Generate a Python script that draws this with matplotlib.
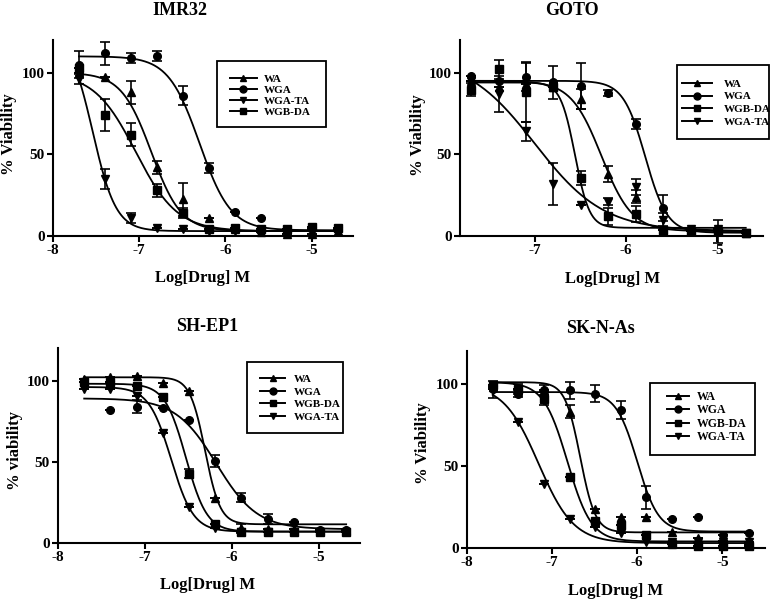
# Dose-response curves of four compounds in four neuroblastoma cell lines

import numpy as np
import matplotlib
matplotlib.use('Agg')
import matplotlib.pyplot as plt
from matplotlib.patches import Rectangle

plt.rcParams['font.family'] = ['Liberation Serif', 'DejaVu Serif']
plt.rcParams['font.weight'] = 'bold'

# log10 of 2-fold dilutions, 20 nM .. 20 uM
log_dose = [-7.699, -7.398, -7.097, -6.796, -6.495, -6.194, -5.893, -5.592, -5.291, -4.990, -4.689]

cell_lines = ['IMR32', 'GOTO', 'SH-EP1', 'SK-N-As']
y_labels = ['% Viability', '% Viability', '% viability', '% Viability']

# IMR32
imr32_wa = [100, 97.5, 88, 42, 22.5, 11, 4, 2.4, 1.5, 1.5, 3]
imr32_wa_err = [0, 0, 7, 4, 10, 0, 0, 0, 0, 0, 0]
imr32_wga = [105, 112, 109, 110, 86, 41.5, 15, 11, 4, 4, 4]
imr32_wga_err = [8, 7, 3, 3, 6, 3, 0, 0, 0, 0, 0]
imr32_wgata = [96, 35, 11, 5, 4, 3, 3, 3, 3, 3, 3]
imr32_wgata_err = [3, 6, 3, 0, 0, 0, 0, 0, 0, 0, 0]
imr32_wgbda = [103, 74, 62, 28, 14, 4.3, 5, 4, 4.5, 5.5, 5]
imr32_wgbda_err = [0, 10, 7, 4, 3, 0, 0, 0, 0, 0, 0]

# GOTO
goto_wa = [95, 91, 93, 91, 84, 38, 24, 3.5, 3, 3, 2]
goto_wa_err = [0, 0, 0, 0, 6, 5, 4, 0, 0, 0, 0]
goto_wga = [98, 95, 97.5, 94, 92, 87.5, 68.5, 17, 3.5, 3, 2]
goto_wga_err = [0, 0, 9, 10, 14, 2, 3, 8, 0, 7, 0]
goto_wgbda = [89.5, 102, 88, 91, 35.5, 12, 13.5, 3.5, 3, 3, 2]
goto_wgbda_err = [4, 6, 18, 0, 4, 5, 5, 0, 0, 0, 0]
goto_wgata = [95, 87, 64, 32, 19, 21, 30, 10, 4, 4, 2]
goto_wgata_err = [0, 11, 6, 13, 0, 2, 5, 4, 0, 0, 0]

# SH-EP1
shep1_wa = [101, 102, 103, 98.5, 93.5, 28, 9, 8.5, 8.7, 8, 8]
shep1_wa_err = [0, 0, 0, 0, 0, 0, 3, 0, 0, 0, 0]
shep1_wga = [99, 82, 84, 83, 76, 50.5, 28, 15, 13, 8, 8]
shep1_wga_err = [0, 0, 4, 0, 0, 3.5, 2.5, 3, 0, 0, 0]
shep1_wgbda = [99, 99, 96.5, 90, 42.7, 12, 7, 7, 7, 7, 7]
shep1_wgbda_err = [0, 0, 0, 0, 3, 0, 0, 0, 0, 0, 0]
shep1_wgata = [95, 94.5, 90.5, 68, 22, 9, 7, 7, 7, 7, 7]
shep1_wgata_err = [0, 0, 0, 0, 0, 0, 0, 0, 0, 0, 0]

# SK-N-As
skn_wa = [98, 97, 96.5, 83, 23.7, 19, 19, 10, 6, 4, 2]
skn_wa_err = [0, 0, 3, 4, 0, 0, 0, 0, 0, 0, 0]
skn_wga = [97, 94, 96.5, 96, 94, 84, 31, 17.5, 19, 8, 9]
skn_wga_err = [0, 2, 0, 5, 5, 5.5, 7, 0, 0, 0, 0]
skn_wgbda = [99, 97, 91, 43, 16.7, 14, 8, 2.4, 1, 1, 1]
skn_wgbda_err = [0, 3, 4, 0, 0, 0, 0, 0, 0, 0, 0]
skn_wgata = [96.5, 77, 39, 17.7, 13, 9, 3.5, 3.5, 3.5, 3.5, 3.5]
skn_wgata_err = [5, 0, 0, 0, 0, 0, 0, 0, 0, 0, 0]

# fitted 4PL parameters: top, bottom, logIC50, hill
# order: WA, WGA, WGA-TA, WGB-DA
imr32_fits = [(100, 3, -6.86, 2.5), (110, 3.5, -6.30, 2.4), (125, 3, -7.54, 3.2), (100, 3, -7.04, 1.8)]
goto_fits = [(95, 3, -6.27, 2.6), (95, 2, -5.79, 3.6), (110, 3, -7.0, 1.15), (94, 5, -6.56, 5.5)]
shep1_fits = [(102, 11.5, -6.31, 5.0), (89, 8.5, -6.18, 1.85), (96, 7, -6.70, 3.4), (98, 7, -6.53, 3.6)]
skn_fits = [(101, 9.5, -6.67, 4.9), (95, 10, -6.0, 3.5), (100, 3, -7.16, 2.1), (101, 4, -6.82, 3.1)]

series_names = ['WA', 'WGA', 'WGA-TA', 'WGB-DA']
markers = {'WA': '^', 'WGA': 'o', 'WGA-TA': 'v', 'WGB-DA': 's'}


def four_pl(x, top, bottom, logic50, hill):
    return bottom + (top - bottom) / (1 + 10 ** ((x - logic50) * hill))


def draw_panel(ax, values, errors, fits, xlim, xticks):
    xs = np.linspace(log_dose[0], log_dose[-1], 300)
    handles = {}
    for name, y, e, p in zip(series_names, values, errors, fits):
        ax.plot(xs, four_pl(xs, *p), color='black', lw=1.3, clip_on=False)
        ax.errorbar(log_dose, y, yerr=e, fmt='none', ecolor='black', elinewidth=1.2,
                    capsize=3.5, capthick=1.2, clip_on=False)
        ms = 6 if markers[name] in '^v' else 5.5
        ax.plot(log_dose, y, ls='none', marker=markers[name], color='black', ms=ms, clip_on=False)
        h, = ax.plot([], [], color='black', lw=1.4, marker=markers[name], ms=5)
        handles[name] = h

    ax.set_xlim(*xlim)
    ax.set_ylim(0, 120)
    ax.set_xticks(xticks)
    ax.set_xticklabels([str(t) for t in xticks])
    ax.set_yticks([0, 50, 100])
    for side in ['top', 'right']:
        ax.spines[side].set_visible(False)
    for side in ['left', 'bottom']:
        ax.spines[side].set_linewidth(1.5)
    ax.tick_params(direction='out', length=4, width=1.5, labelsize=11, pad=2)
    for lab in ax.get_xticklabels() + ax.get_yticklabels():
        lab.set_fontweight('bold')
    return handles


def main():
    fig = plt.figure(figsize=(7.8, 5.99), dpi=100)
    W, H = 780.0, 599.0

    def axes_px(left, top, right, bottom):
        return fig.add_axes([left / W, 1 - bottom / H, (right - left) / W, (bottom - top) / H])

    ax1 = axes_px(53, 40, 353, 236)
    ax2 = axes_px(460, 40, 763, 236)
    ax3 = axes_px(58, 348, 360, 543)
    ax4 = axes_px(467, 351, 765, 548)

    h1 = draw_panel(ax1, [imr32_wa, imr32_wga, imr32_wgata, imr32_wgbda],
                    [imr32_wa_err, imr32_wga_err, imr32_wgata_err, imr32_wgbda_err], imr32_fits,
                    (-8, -4.52), [-8, -7, -6, -5])
    h2 = draw_panel(ax2, [goto_wa, goto_wga, goto_wgata, goto_wgbda],
                    [goto_wa_err, goto_wga_err, goto_wgata_err, goto_wgbda_err], goto_fits,
                    (-7.82, -4.5), [-7, -6, -5])
    h3 = draw_panel(ax3, [shep1_wa, shep1_wga, shep1_wgata, shep1_wgbda],
                    [shep1_wa_err, shep1_wga_err, shep1_wgata_err, shep1_wgbda_err], shep1_fits,
                    (-8, -4.53), [-8, -7, -6, -5])
    h4 = draw_panel(ax4, [skn_wa, skn_wga, skn_wgata, skn_wgbda],
                    [skn_wa_err, skn_wga_err, skn_wgata_err, skn_wgbda_err], skn_fits,
                    (-8, -4.5), [-8, -7, -6, -5])

    # legends: box in pixels, handle start x, row centre y, font size, spacing, handle len, text pad
    legend_specs = [
        (h1, ['WA', 'WGA', 'WGA-TA', 'WGB-DA'], (217, 61, 326, 127), 230, 95.5, 8, 0.1, 2.4, 0.65),
        (h2, ['WA', 'WGA', 'WGB-DA', 'WGA-TA'], (677, 65, 769, 139), 682, 103, 8, 0.28, 2.7, 1.05),
        (h3, ['WA', 'WGA', 'WGB-DA', 'WGA-TA'], (247, 362, 343, 433), 260, 398, 8, 0.25, 2.25, 0.8),
        (h4, ['WA', 'WGA', 'WGB-DA', 'WGA-TA'], (650, 383, 755, 455), 667, 417, 8.5, 0.12, 1.9, 0.6),
    ]
    for handles, order, box, hx, cy, fs, ls, hl, tp in legend_specs:
        leg = fig.legend([handles[n] for n in order], order, loc='center left',
                         bbox_to_anchor=(hx / W, 1 - cy / H), bbox_transform=fig.transFigure,
                         fontsize=fs, frameon=False, handlelength=hl, labelspacing=ls,
                         handletextpad=tp, borderpad=0, borderaxespad=0)
        for t in leg.get_texts():
            t.set_fontweight('bold')
        l, t_, r, b = box
        fig.patches.append(Rectangle((l / W, 1 - b / H), (r - l) / W, (b - t_) / H,
                                     transform=fig.transFigure, fill=False,
                                     edgecolor='black', lw=1.3))

    # titles and axis labels, placed in pixels like the original (baselines)
    title_pos = [(180, 15), (572, 15), (207, 331), (600, 333)]
    xlab_pos = [(203, 282), (613, 283), (208, 589), (616, 595)]
    ylab_pos = [(9, 134), (418, 135), (15, 450), (423, 443)]
    for i in range(4):
        fig.text(title_pos[i][0] / W, 1 - title_pos[i][1] / H, cell_lines[i], ha='center',
                 va='baseline', fontsize=13, fontweight='bold')
        fig.text(xlab_pos[i][0] / W, 1 - xlab_pos[i][1] / H, 'Log[Drug] M', ha='center',
                 va='baseline', fontsize=12, fontweight='bold')
        fig.text(ylab_pos[i][0] / W, 1 - ylab_pos[i][1] / H, y_labels[i], ha='center',
                 va='center', rotation=90, fontsize=12, fontweight='bold')

    fig.savefig('out.png', dpi=100)


if __name__ == '__main__':
    main()
